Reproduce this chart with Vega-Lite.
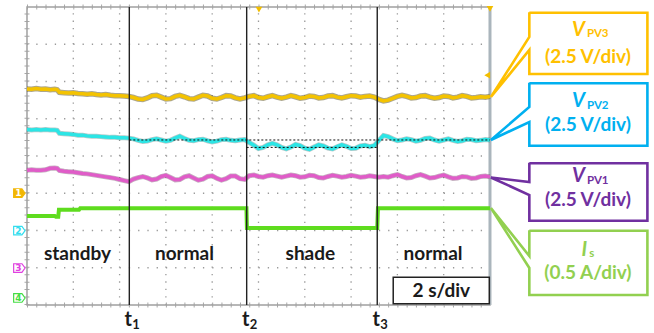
{
"$schema": "https://vega.github.io/schema/vega-lite/v6.json",
"width": 654, "height": 333, "padding": 0,
"autosize": {"type": "none"},
"background": "white",
"config": {"view": {"stroke": null}},
"resolve": {"scale": {"color": "independent", "fill": "independent", "stroke": "independent", "shape": "independent"}},
"datasets": {
"v3": [{"t":0,"v":5.8},{"t":0.2,"v":5.79},{"t":0.4,"v":5.81},{"t":0.6,"v":5.79},{"t":0.8,"v":5.8},{"t":1.0,"v":5.78},{"t":1.2,"v":5.79},{"t":1.3,"v":5.78},{"t":1.4,"v":5.71},{"t":1.6,"v":5.7},{"t":1.8,"v":5.69},{"t":2.0,"v":5.7},{"t":2.2,"v":5.68},{"t":2.4,"v":5.67},{"t":2.6,"v":5.66},{"t":2.8,"v":5.67},{"t":3.0,"v":5.65},{"t":3.2,"v":5.64},{"t":3.4,"v":5.65},{"t":3.6,"v":5.63},{"t":3.8,"v":5.62},{"t":4.0,"v":5.62},{"t":4.2,"v":5.61},{"t":4.4,"v":5.6},
{"t":4.6,"v":5.57},{"t":4.8,"v":5.53},{"t":5.0,"v":5.52},{"t":5.2,"v":5.56},{"t":5.4,"v":5.62},{"t":5.6,"v":5.63},{"t":5.8,"v":5.58},{"t":6.0,"v":5.53},{"t":6.2,"v":5.54},{"t":6.4,"v":5.6},{"t":6.6,"v":5.63},{"t":6.8,"v":5.59},{"t":7.0,"v":5.54},{"t":7.2,"v":5.53},{"t":7.4,"v":5.58},{"t":7.6,"v":5.63},{"t":7.8,"v":5.61},{"t":8.0,"v":5.55},{"t":8.2,"v":5.53},{"t":8.4,"v":5.57},{"t":8.6,"v":5.62},{"t":8.8,"v":5.61},{"t":9.0,"v":5.56},{"t":9.2,"v":5.53},{"t":9.4,"v":5.56},
{"t":9.6,"v":5.6},{"t":9.8,"v":5.62},{"t":10.0,"v":5.57},{"t":10.2,"v":5.55},{"t":10.4,"v":5.59},{"t":10.6,"v":5.62},{"t":10.8,"v":5.58},{"t":11.0,"v":5.55},{"t":11.2,"v":5.58},{"t":11.4,"v":5.62},{"t":11.6,"v":5.59},{"t":11.8,"v":5.55},{"t":12.0,"v":5.57},{"t":12.2,"v":5.61},{"t":12.4,"v":5.6},{"t":12.6,"v":5.56},{"t":12.8,"v":5.57},{"t":13.0,"v":5.61},{"t":13.2,"v":5.62},{"t":13.4,"v":5.58},{"t":13.6,"v":5.56},{"t":13.8,"v":5.59},{"t":14.0,"v":5.62},{"t":14.2,"v":5.61},{"t":14.4,"v":5.58},{"t":14.6,"v":5.6},{"t":14.8,"v":5.61},{"t":15.0,"v":5.58},
{"t":15.2,"v":5.52},{"t":15.4,"v":5.48},{"t":15.6,"v":5.5},{"t":15.8,"v":5.55},{"t":16.0,"v":5.6},{"t":16.2,"v":5.63},{"t":16.4,"v":5.6},{"t":16.6,"v":5.56},{"t":16.8,"v":5.57},{"t":17.0,"v":5.61},{"t":17.2,"v":5.62},{"t":17.4,"v":5.58},{"t":17.6,"v":5.55},{"t":17.8,"v":5.57},{"t":18.0,"v":5.61},{"t":18.2,"v":5.6},{"t":18.4,"v":5.56},{"t":18.6,"v":5.58},{"t":18.8,"v":5.62},{"t":19.0,"v":5.6},{"t":19.2,"v":5.56},{"t":19.4,"v":5.57},{"t":19.6,"v":5.59},{"t":19.8,"v":5.58},{"t":20.0,"v":5.6}],
"v2": [{"t":0,"v":4.71},{"t":0.2,"v":4.7},{"t":0.4,"v":4.71},{"t":0.6,"v":4.7},{"t":0.8,"v":4.71},{"t":1.0,"v":4.7},{"t":1.2,"v":4.7},{"t":1.3,"v":4.69},{"t":1.4,"v":4.61},{"t":1.6,"v":4.6},{"t":1.8,"v":4.59},{"t":2.0,"v":4.58},{"t":2.2,"v":4.56},{"t":2.4,"v":4.56},{"t":2.6,"v":4.54},{"t":2.8,"v":4.53},{"t":3.0,"v":4.53},{"t":3.2,"v":4.52},{"t":3.4,"v":4.51},{"t":3.6,"v":4.5},{"t":3.8,"v":4.5},{"t":4.0,"v":4.49},{"t":4.2,"v":4.49},{"t":4.4,"v":4.48},
{"t":4.6,"v":4.46},{"t":4.8,"v":4.42},{"t":5.0,"v":4.39},{"t":5.2,"v":4.4},{"t":5.4,"v":4.44},{"t":5.6,"v":4.46},{"t":5.8,"v":4.43},{"t":6.0,"v":4.4},{"t":6.2,"v":4.42},{"t":6.4,"v":4.48},{"t":6.6,"v":4.53},{"t":6.8,"v":4.47},{"t":7.0,"v":4.42},{"t":7.2,"v":4.41},{"t":7.4,"v":4.44},{"t":7.6,"v":4.45},{"t":7.8,"v":4.41},{"t":8.0,"v":4.38},{"t":8.2,"v":4.4},{"t":8.4,"v":4.44},{"t":8.6,"v":4.45},{"t":8.8,"v":4.42},{"t":9.0,"v":4.41},{"t":9.2,"v":4.43},{"t":9.4,"v":4.44},
{"t":9.6,"v":4.36},{"t":9.8,"v":4.29},{"t":10.0,"v":4.2},{"t":10.2,"v":4.23},{"t":10.4,"v":4.3},{"t":10.6,"v":4.34},{"t":10.8,"v":4.3},{"t":11.0,"v":4.23},{"t":11.2,"v":4.19},{"t":11.4,"v":4.24},{"t":11.6,"v":4.31},{"t":11.8,"v":4.28},{"t":12.0,"v":4.21},{"t":12.2,"v":4.18},{"t":12.4,"v":4.24},{"t":12.6,"v":4.3},{"t":12.8,"v":4.27},{"t":13.0,"v":4.21},{"t":13.2,"v":4.19},{"t":13.4,"v":4.25},{"t":13.6,"v":4.3},{"t":13.8,"v":4.26},{"t":14.0,"v":4.2},{"t":14.2,"v":4.21},{"t":14.4,"v":4.27},{"t":14.6,"v":4.29},{"t":14.8,"v":4.25},{"t":15.0,"v":4.28},
{"t":15.2,"v":4.42},{"t":15.4,"v":4.55},{"t":15.6,"v":4.52},{"t":15.8,"v":4.46},{"t":16.0,"v":4.41},{"t":16.2,"v":4.43},{"t":16.4,"v":4.46},{"t":16.6,"v":4.44},{"t":16.8,"v":4.4},{"t":17.0,"v":4.42},{"t":17.2,"v":4.47},{"t":17.4,"v":4.48},{"t":17.6,"v":4.43},{"t":17.8,"v":4.4},{"t":18.0,"v":4.43},{"t":18.2,"v":4.46},{"t":18.4,"v":4.42},{"t":18.6,"v":4.39},{"t":18.8,"v":4.41},{"t":19.0,"v":4.45},{"t":19.2,"v":4.44},{"t":19.4,"v":4.41},{"t":19.6,"v":4.42},{"t":19.8,"v":4.44},{"t":20.0,"v":4.43}],
"v1": [{"t":0,"v":3.62},{"t":0.2,"v":3.63},{"t":0.4,"v":3.62},{"t":0.6,"v":3.62},{"t":0.8,"v":3.63},{"t":1.0,"v":3.67},{"t":1.2,"v":3.68},{"t":1.3,"v":3.67},{"t":1.4,"v":3.61},{"t":1.6,"v":3.59},{"t":1.8,"v":3.58},{"t":2.0,"v":3.57},{"t":2.2,"v":3.55},{"t":2.4,"v":3.53},{"t":2.6,"v":3.52},{"t":2.8,"v":3.5},{"t":3.0,"v":3.48},{"t":3.2,"v":3.46},{"t":3.4,"v":3.44},{"t":3.6,"v":3.42},{"t":3.8,"v":3.4},{"t":4.0,"v":3.37},{"t":4.2,"v":3.34},{"t":4.4,"v":3.31},
{"t":4.6,"v":3.38},{"t":4.8,"v":3.42},{"t":5.0,"v":3.45},{"t":5.2,"v":3.41},{"t":5.4,"v":3.36},{"t":5.6,"v":3.38},{"t":5.8,"v":3.45},{"t":6.0,"v":3.48},{"t":6.2,"v":3.42},{"t":6.4,"v":3.36},{"t":6.6,"v":3.37},{"t":6.8,"v":3.44},{"t":7.0,"v":3.47},{"t":7.2,"v":3.41},{"t":7.4,"v":3.35},{"t":7.6,"v":3.38},{"t":7.8,"v":3.45},{"t":8.0,"v":3.47},{"t":8.2,"v":3.4},{"t":8.4,"v":3.35},{"t":8.6,"v":3.39},{"t":8.8,"v":3.46},{"t":9.0,"v":3.46},{"t":9.2,"v":3.39},{"t":9.4,"v":3.37},
{"t":9.6,"v":3.47},{"t":9.8,"v":3.49},{"t":10.0,"v":3.45},{"t":10.2,"v":3.43},{"t":10.4,"v":3.47},{"t":10.6,"v":3.49},{"t":10.8,"v":3.46},{"t":11.0,"v":3.43},{"t":11.2,"v":3.46},{"t":11.4,"v":3.49},{"t":11.6,"v":3.47},{"t":11.8,"v":3.43},{"t":12.0,"v":3.44},{"t":12.2,"v":3.48},{"t":12.4,"v":3.47},{"t":12.6,"v":3.42},{"t":12.8,"v":3.41},{"t":13.0,"v":3.45},{"t":13.2,"v":3.48},{"t":13.4,"v":3.46},{"t":13.6,"v":3.43},{"t":13.8,"v":3.45},{"t":14.0,"v":3.48},{"t":14.2,"v":3.46},{"t":14.4,"v":3.43},{"t":14.6,"v":3.44},{"t":14.8,"v":3.47},{"t":15.0,"v":3.45},
{"t":15.2,"v":3.43},{"t":15.4,"v":3.45},{"t":15.6,"v":3.43},{"t":15.8,"v":3.47},{"t":16.0,"v":3.5},{"t":16.2,"v":3.45},{"t":16.4,"v":3.41},{"t":16.6,"v":3.42},{"t":16.8,"v":3.47},{"t":17.0,"v":3.5},{"t":17.2,"v":3.46},{"t":17.4,"v":3.41},{"t":17.6,"v":3.42},{"t":17.8,"v":3.46},{"t":18.0,"v":3.49},{"t":18.2,"v":3.44},{"t":18.4,"v":3.4},{"t":18.6,"v":3.41},{"t":18.8,"v":3.45},{"t":19.0,"v":3.44},{"t":19.2,"v":3.4},{"t":19.4,"v":3.41},{"t":19.6,"v":3.45},{"t":19.8,"v":3.46},{"t":20.0,"v":3.44}],
"is": [{"t":0,"v":2.39},{"t":1.2,"v":2.39},{"t":1.25,"v":2.37},{"t":1.35,"v":2.37},{"t":1.38,"v":2.56},{"t":2.25,"v":2.56},{"t":2.3,"v":2.6},{"t":9.48,"v":2.6},{"t":9.5,"v":2.07},{"t":15.13,"v":2.07},{"t":15.16,"v":2.6},{"t":20.0,"v":2.6}],
"callout": [
{"k":"VPV3","o":1,"t":21.7,"v":7.847},{"k":"VPV3","o":2,"t":26.8,"v":7.847},{"k":"VPV3","o":3,"t":26.8,"v":6.201},{"k":"VPV3","o":4,"t":21.7,"v":6.201},{"k":"VPV3","o":5,"t":21.7,"v":6.846},{"k":"VPV3","o":6,"t":20.04,"v":5.584},{"k":"VPV3","o":7,"t":21.7,"v":7.195},{"k":"VPV3","o":8,"t":21.7,"v":7.86},
{"k":"VPV2","o":1,"t":21.7,"v":5.952},{"k":"VPV2","o":2,"t":26.8,"v":5.952},{"k":"VPV2","o":3,"t":26.8,"v":4.277},{"k":"VPV2","o":4,"t":21.7,"v":4.277},{"k":"VPV2","o":5,"t":21.7,"v":4.913},{"k":"VPV2","o":6,"t":20.04,"v":4.43},{"k":"VPV2","o":7,"t":21.7,"v":5.315},{"k":"VPV2","o":8,"t":21.7,"v":5.965},
{"k":"VPV1","o":1,"t":21.7,"v":3.804},{"k":"VPV1","o":2,"t":26.8,"v":3.804},{"k":"VPV1","o":3,"t":26.8,"v":2.263},{"k":"VPV1","o":4,"t":21.7,"v":2.263},{"k":"VPV1","o":5,"t":21.7,"v":2.953},{"k":"VPV1","o":6,"t":20.04,"v":3.423},{"k":"VPV1","o":7,"t":21.7,"v":3.302},{"k":"VPV1","o":8,"t":21.7,"v":3.817},
{"k":"Is","o":1,"t":21.7,"v":1.995},{"k":"Is","o":2,"t":26.8,"v":1.995},{"k":"Is","o":3,"t":26.8,"v":0.268},{"k":"Is","o":4,"t":21.7,"v":0.268},{"k":"Is","o":5,"t":21.7,"v":0.993},{"k":"Is","o":6,"t":20.04,"v":2.604},{"k":"Is","o":7,"t":21.7,"v":1.315},{"k":"Is","o":8,"t":21.7,"v":2.008}],
"ctext": [
{"k":"VPV3","ts":24.1,"tc":24.23,"a":7.23,"b":6.51,"m":"V","s":"PV3","l":"(2.5 V/div)"},
{"k":"VPV2","ts":24.1,"tc":24.23,"a":5.31,"b":4.675,"m":"V","s":"PV2","l":"(2.5 V/div)"},
{"k":"VPV1","ts":24.1,"tc":24.23,"a":3.29,"b":2.66,"m":"V","s":"PV1","l":"(2.5 V/div)"},
{"k":"Is","ts":24.2,"tc":24.23,"a":1.32,"b":0.695,"m":"I","s":"s","l":"(0.5 A/div)"}],
"tlab": [{"t":4.42,"v":-0.556,"a":"t","b":"1"},{"t":9.49,"v":-0.556,"a":"t","b":"2"},{"t":15.13,"v":-0.556,"a":"t","b":"3"}],
"tags": [{"t":-0.33,"v":3.0,"ch":"1"},{"t":-0.33,"v":1.995,"ch":"2"},{"t":-0.33,"v":0.993,"ch":"3"},{"t":-0.33,"v":0.188,"ch":"4"}]
},
"encoding": {
"x": {"field": "t", "type": "quantitative", "scale": {"domain": [-1.166, 27.085], "nice": false, "zero": false}, "axis": null},
"y": {"field": "v", "type": "quantitative", "scale": {"domain": [-0.752, 8.188], "nice": false, "zero": false}, "axis": null}
},
"layer": [
{"data": {"values": [{"t":2,"v":0,"w":8},{"t":4,"v":0,"w":8},{"t":6,"v":0,"w":8},{"t":8,"v":0,"w":8},{"t":10,"v":0,"w":8},{"t":12,"v":0,"w":8},{"t":14,"v":0,"w":8},{"t":16,"v":0,"w":8},{"t":18,"v":0,"w":8}]},
 "mark": {"type": "rule", "color": "#9a9a9a", "strokeWidth": 1.3, "strokeDash": [1.3, 6.15]},
 "encoding": {"y2": {"field": "w"}}},
{"data": {"values": [{"t":0,"u":20,"v":1},{"t":0,"u":20,"v":2},{"t":0,"u":20,"v":3},{"t":0,"u":20,"v":4},{"t":0,"u":20,"v":5},{"t":0,"u":20,"v":6},{"t":0,"u":20,"v":7}]},
 "mark": {"type": "rule", "color": "#9a9a9a", "strokeWidth": 1.3, "strokeDash": [1.3, 7.96]},
 "encoding": {"x2": {"field": "u"}}},
{"data": {"values": [{"t":0,"u":20,"v":0},{"t":0,"u":20,"v":8}]},
 "mark": {"type": "rule", "color": "#a8a8a8", "strokeWidth": 5, "strokeDash": [1, 8.26]},
 "encoding": {"x2": {"field": "u"}}},
{"data": {"values": [{"t":0,"v":0,"w":8}]},
 "mark": {"type": "rule", "color": "#a8a8a8", "strokeWidth": 5, "strokeDash": [1, 6.45]},
 "encoding": {"y2": {"field": "w"}}},
{"data": {"values": [{"t":0,"u":20,"v":0,"w":8}]},
 "mark": {"type": "rect", "fillOpacity": 0, "stroke": "#a0a0a0", "strokeWidth": 1.5},
 "encoding": {"x2": {"field": "u"}, "y2": {"field": "w"}}},
{"data": {"values": [{"t":20,"v":0,"w":8}]},
 "mark": {"type": "rule", "color": "#aab5bc", "strokeWidth": 3},
 "encoding": {"y2": {"field": "w"}}},
{"data": {"name": "v3"}, "mark": {"type": "line", "color": "#4a3c00", "strokeWidth": 5.5, "opacity": 0.45}, "encoding": {}},
{"data": {"name": "v3"}, "mark": {"type": "line", "color": "#F4C300", "strokeWidth": 3.5}, "encoding": {}},
{"data": {"name": "v2"}, "mark": {"type": "line", "color": "#0a5050", "strokeWidth": 5, "opacity": 0.3}, "encoding": {}},
{"data": {"name": "v2"}, "mark": {"type": "line", "color": "#2CE5E5", "strokeWidth": 3.5}, "encoding": {}},
{"data": {"name": "v1"}, "mark": {"type": "line", "color": "#5a1a4a", "strokeWidth": 5, "opacity": 0.35}, "encoding": {}},
{"data": {"name": "v1"}, "mark": {"type": "line", "color": "#E05CC8", "strokeWidth": 3.5}, "encoding": {}},
{"data": {"name": "is"}, "mark": {"type": "line", "color": "#5EDC1E", "strokeWidth": 4}, "encoding": {}},
{"data": {"values": [{"t":4.42,"v":0,"w":8},{"t":9.49,"v":0,"w":8},{"t":15.13,"v":0,"w":8}]},
 "mark": {"type": "rule", "color": "#222222", "strokeWidth": 1.4},
 "encoding": {"y2": {"field": "w"}}},
{"data": {"values": [{"t":4.42,"u":20,"v":4.43},{"t":9.49,"u":15.13,"v":4.23}]},
 "mark": {"type": "rule", "color": "#111111", "strokeWidth": 1, "strokeDash": [2, 2]},
 "encoding": {"x2": {"field": "u"}}},
{"data": {"values": [{"t":10.02,"v":7.93,"s":"d"},{"t":19.88,"v":6.17,"s":"l"},{"t":20.0,"v":7.95,"s":"d"}]},
 "mark": {"type": "point", "filled": true, "color": "#F2BE00", "size": 45, "opacity": 1},
 "encoding": {"shape": {"field": "s", "type": "nominal", "scale": {"domain": ["d","l"], "range": ["triangle-down","triangle-left"]}, "legend": null}}},
{"data": {"name": "tags"},
 "mark": {"type": "point", "shape": "M-1,-0.75L0.45,-0.75L1,0L0.45,0.75L-1,0.75Z", "size": 130, "filled": true, "strokeWidth": 1.2, "opacity": 1},
 "encoding": {
  "fill": {"field": "ch", "type": "nominal", "scale": {"domain": ["1","2","3","4"], "range": ["#F2B705","#ffffff","#ffffff","#ffffff"]}, "legend": null},
  "stroke": {"field": "ch", "type": "nominal", "scale": {"domain": ["1","2","3","4"], "range": ["#F2B705","#33DDEE","#E040E0","#44DD44"]}, "legend": null}}},
{"data": {"name": "tags"},
 "mark": {"type": "text", "fontSize": 9, "fontWeight": "bold", "font": "DejaVu Sans", "dx": -1, "baseline": "middle"},
 "encoding": {"text": {"field": "ch"},
  "color": {"field": "ch", "type": "nominal", "scale": {"domain": ["1","2","3","4"], "range": ["#ffffff","#33DDEE","#E040E0","#44DD44"]}, "legend": null}}},
{"data": {"values": [{"t":2.18,"v":1.208,"s":"standby"},{"t":6.8,"v":1.208,"s":"normal"},{"t":12.24,"v":1.208,"s":"shade"},{"t":17.54,"v":1.208,"s":"normal"}]},
 "mark": {"type": "text", "font": "Lato", "fontWeight": "bold", "fontSize": 19, "color": "#1a1a1a", "baseline": "alphabetic", "align": "center"},
 "encoding": {"text": {"field": "s"}}},
{"data": {"values": [{"t":15.82,"u":19.97,"v":0.03,"w":0.744}]},
 "mark": {"type": "rect", "fill": "#ffffff", "stroke": "#222222", "strokeWidth": 1.5},
 "encoding": {"x2": {"field": "u"}, "y2": {"field": "w"}}},
{"data": {"values": [{"t":17.9,"v":0.207,"s":"2 s/div"}]},
 "mark": {"type": "text", "font": "Lato", "fontWeight": "bold", "fontSize": 19, "color": "#1a1a1a", "baseline": "alphabetic", "align": "center"},
 "encoding": {"text": {"field": "s"}}},
{"data": {"name": "callout"},
 "mark": {"type": "line", "strokeWidth": 2.6, "strokeJoin": "miter"},
 "encoding": {"order": {"field": "o", "type": "quantitative"}, "detail": {"field": "k"},
  "color": {"field": "k", "type": "nominal", "scale": {"domain": ["VPV3","VPV2","VPV1","Is"], "range": ["#FFC000","#00B0F0","#7030A0","#92D050"]}, "legend": null}}},
{"data": {"name": "ctext"},
 "mark": {"type": "text", "font": "Lato", "fontWeight": "bold", "fontStyle": "italic", "fontSize": 20, "align": "right", "baseline": "alphabetic"},
 "encoding": {"x": {"field": "ts", "type": "quantitative"}, "y": {"field": "a", "type": "quantitative"}, "text": {"field": "m"},
  "color": {"field": "k", "type": "nominal", "scale": {"domain": ["VPV3","VPV2","VPV1","Is"], "range": ["#FFC000","#00B0F0","#7030A0","#92D050"]}, "legend": null}}},
{"data": {"name": "ctext"},
 "mark": {"type": "text", "font": "Lato", "fontWeight": "bold", "fontSize": 11.5, "align": "left", "baseline": "alphabetic", "dx": 2, "dy": 1.5},
 "encoding": {"x": {"field": "ts", "type": "quantitative"}, "y": {"field": "a", "type": "quantitative"}, "text": {"field": "s"},
  "color": {"field": "k", "type": "nominal", "scale": {"domain": ["VPV3","VPV2","VPV1","Is"], "range": ["#FFC000","#00B0F0","#7030A0","#92D050"]}, "legend": null}}},
{"data": {"name": "ctext"},
 "mark": {"type": "text", "font": "Lato", "fontWeight": "bold", "fontSize": 19, "align": "center", "baseline": "alphabetic"},
 "encoding": {"x": {"field": "tc", "type": "quantitative"}, "y": {"field": "b", "type": "quantitative"}, "text": {"field": "l"},
  "color": {"field": "k", "type": "nominal", "scale": {"domain": ["VPV3","VPV2","VPV1","Is"], "range": ["#FFC000","#00B0F0","#7030A0","#92D050"]}, "legend": null}}},
{"data": {"name": "tlab"},
 "mark": {"type": "text", "font": "Lato", "fontWeight": "bold", "fontSize": 20, "color": "#1a1a1a", "align": "center", "baseline": "alphabetic", "dx": -1},
 "encoding": {"text": {"field": "a"}}},
{"data": {"name": "tlab"},
 "mark": {"type": "text", "font": "Lato", "fontWeight": "bold", "fontSize": 13, "color": "#1a1a1a", "align": "left", "baseline": "alphabetic", "dx": 3, "dy": 3},
 "encoding": {"text": {"field": "b"}}}
]
}
